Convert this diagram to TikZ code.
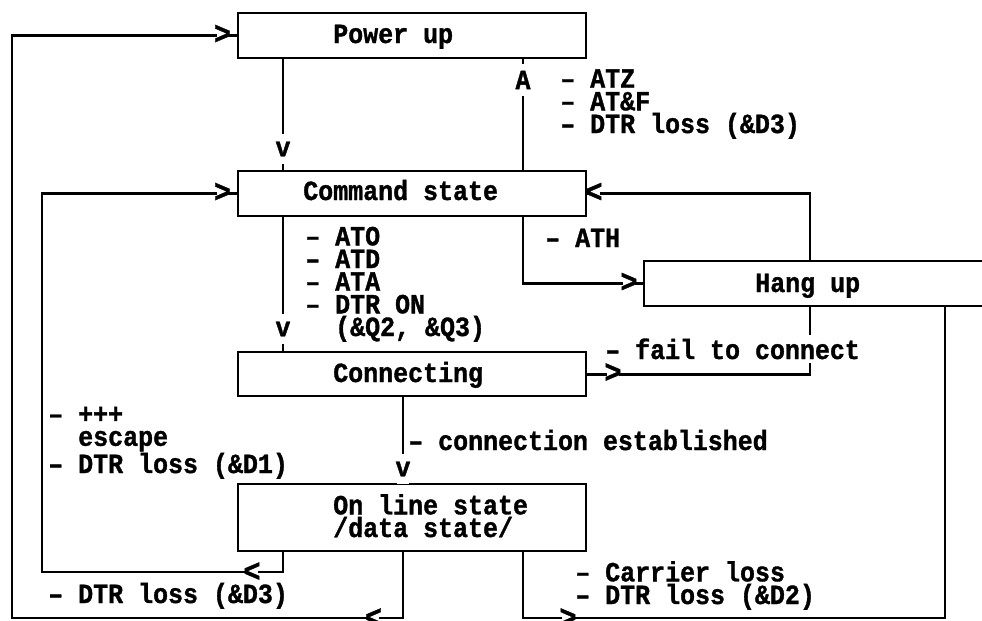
\documentclass[tikz,border=0pt]{standalone}
\usepackage{fontspec}
\newfontfamily\term{Liberation Mono Bold}[FakeStretch=0.9, FakeBold=1.2]
\newlength\pxl
\setlength\pxl{0.75pt}
\begin{document}
\begin{tikzpicture}[x=0.75pt,y=-0.75pt,
  every node/.style={font=\term\fontsize{20.8}{17}\selectfont},
  box/.style={draw, line width=1.8pt, inner sep=0pt, anchor=north west, minimum width=348*\pxl, minimum height=45*\pxl},
  wire/.style={line width=2pt, line join=miter},
  lbl/.style={anchor=base west, inner sep=0pt, align=left},
  glyph/.style={fill=white, inner xsep=-1pt, inner ysep=5.5pt},
  chev/.style={fill=white, inner xsep=-2pt, inner ysep=0.5pt, font=\term\fontsize{24}{20}\selectfont}]
\clip (0,0) rectangle (982,621);
% boxes
\node[box] (pwr) at (237,12) {};
\node[box] (cmd) at (237,170) {};
\node[box, minimum width=400*\pxl] (hang) at (643,260) {};
\node[box, minimum height=44*\pxl] (conn) at (237,351) {};
\node[box, minimum height=67*\pxl] (onl) at (237,483) {};
% box texts (base = baseline of the last line)
\node[lbl] (pwrT) at (333,43) {Power up};
\node[lbl] (cmdT) at (303,200) {Command state};
\node[lbl] (hangT) at (755,292) {Hang up};
\node[lbl] (connT) at (333,382) {Connecting};
\node[lbl] (onlT) at (333,537) {On line state\\/data state/};
% columns and rows
\coordinate (cA) at (283,0);
\coordinate (cB) at (403,0);
\coordinate (cC) at (523,0);
\coordinate (cD) at (810,0);
\coordinate (cE) at (945,0);
\coordinate (cL1) at (12,0);
\coordinate (cL2) at (42,0);
\coordinate (rMid) at (0,572);
\coordinate (rBot) at (0,618);
% connectors
\draw[wire] (pwr.south -| cA) -- (cmd.north -| cA);
\draw[wire] (cmd.north -| cC) -- (pwr.south -| cC);
\draw[wire] (cmd.south -| cC) |- (hang.west);
\draw[wire] (hang.north -| cD) |- (cmd.east);
\draw[wire] (cmd.south -| cA) -- (conn.north -| cA);
\draw[wire] (conn.east) -| (hang.south -| cD);
\draw[wire] (conn.south -| cB) -- (onl.north -| cB);
\draw[wire] (onl.south -| cC) -- (cC |- rBot) -- (cE |- rBot) -- (hang.south -| cE);
\draw[wire] (onl.south -| cA) -- (cA |- rMid) -- (cL2 |- rMid) -- (cL2 |- cmd.west) -- (cmd.west);
\draw[wire] (onl.south -| cB) -- (cB |- rBot) -- (cL1 |- rBot) -- (cL1 |- pwr.west) -- (pwr.west);
% arrow glyphs
\node[glyph] (gA) at (523,80) {A};
\node[glyph] (gv1) at (283,149) {v};
\node[glyph] (gv2) at (283,329) {v};
\node[glyph] (gv3) at (403,469) {v};
\node[chev] (gr1) at (222.5,34.5) {>};
\node[chev] (gr2) at (222.5,192.5) {>};
\node[chev] (gr3) at (629,282.5) {>};
\node[chev] (gr4) at (613,373) {>};
\node[chev] (gr5) at (568,618) {>};
\node[chev] (gl1) at (594,192.5) {<};
\node[chev] (gl2) at (252,572) {<};
\node[chev] (gl3) at (373.5,618) {<};
% labels (base = baseline of the last line)
\node[lbl] (lz) at (560,133) {– ATZ\\– AT\&F\\– DTR loss (\&D3)};
\node[lbl] (lh) at (545,247) {– ATH};
\node[lbl] (lo) at (305,336) {– ATO\\– ATD\\– ATA\\– DTR ON\\\phantom{–\ }(\&Q2, \&Q3)};
\node[lbl, fill=white, inner ysep=3pt] (lf) at (605,359) {– fail to connect};
\node[lbl] (le) at (48,473) {– +++\\\phantom{–\ }escape\\– DTR loss (\&D1)};
\node[lbl] (lc) at (408,450) {– connection established};
\node[lbl] (ld) at (48,603) {– DTR loss (\&D3)};
\node[lbl] (lr) at (575,604) {– Carrier loss\\– DTR loss (\&D2)};
\end{tikzpicture}
\end{document}
